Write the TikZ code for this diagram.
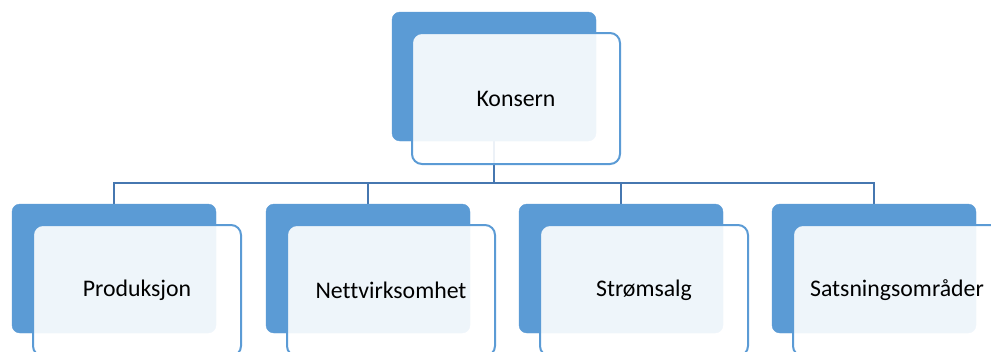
\documentclass[tikz,border=0pt]{standalone}
\usepackage{fontspec}
\setmainfont{Carlito}[Ligatures={NoCommon}]
\usetikzlibrary{backgrounds}
\definecolor{darkb}{HTML}{5B9BD5}
\definecolor{conn}{HTML}{4677B0}
\begin{document}
\begin{tikzpicture}[x=1pt,y=-1pt,
  back/.style={draw=darkb,fill=darkb,rounded corners=8pt,minimum width=204pt,minimum height=129pt,anchor=north west,inner sep=0pt,outer sep=0pt},
  front/.style={draw=darkb,line width=2pt,fill=white,fill opacity=0.9,draw opacity=1,rounded corners=10pt,minimum width=208pt,minimum height=131pt,anchor=north west,inner sep=0pt,outer sep=0pt},
  lbl/.style={font=\fontsize{23.8}{27}\selectfont,text=black,inner sep=0pt},
  link/.style={draw=conn,line width=2.4pt}]
\useasboundingbox (0,0) rectangle (991,351);
\clip (0,0) rectangle (991,351);
% top
\node[back] (k1) at (392,12) {};
\node[front] (k2) at (412,33) {};
\node[lbl] (kt) at (k2.center) {Konsern};
% children
\node[back] (c1) at (12,204) {};
\node[front] (f1) at (33,225) {};
\node[lbl] (t1) at (f1.center) {Produksjon};
\node[back] (c2) at (266,204) {};
\node[front] (f2) at (287,225) {};
\node[lbl] (t2) at (f2.center) {Nettvirksomhet};
\node[back] (c3) at (519,204) {};
\node[front] (f3) at (540,225) {};
\node[lbl] (t3) at (f3.center) {Strømsalg};
\node[back] (c4) at (772,204) {};
\node[front] (f4) at (793,225) {};
\node[lbl] (t4) at (f4.center) {Satsningsområder};
\coordinate (bus) at (0,183);
\begin{scope}[on background layer]
\draw[link] (k1.south) -- (k1.south |- bus);
\draw[link] (c1.north) |- (c4.north |- bus) -- (c4.north);
\draw[link] (c2.north) -- (c2.north |- bus);
\draw[link] (c3.north) -- (c3.north |- bus);
\end{scope}
\end{tikzpicture}
\end{document}
